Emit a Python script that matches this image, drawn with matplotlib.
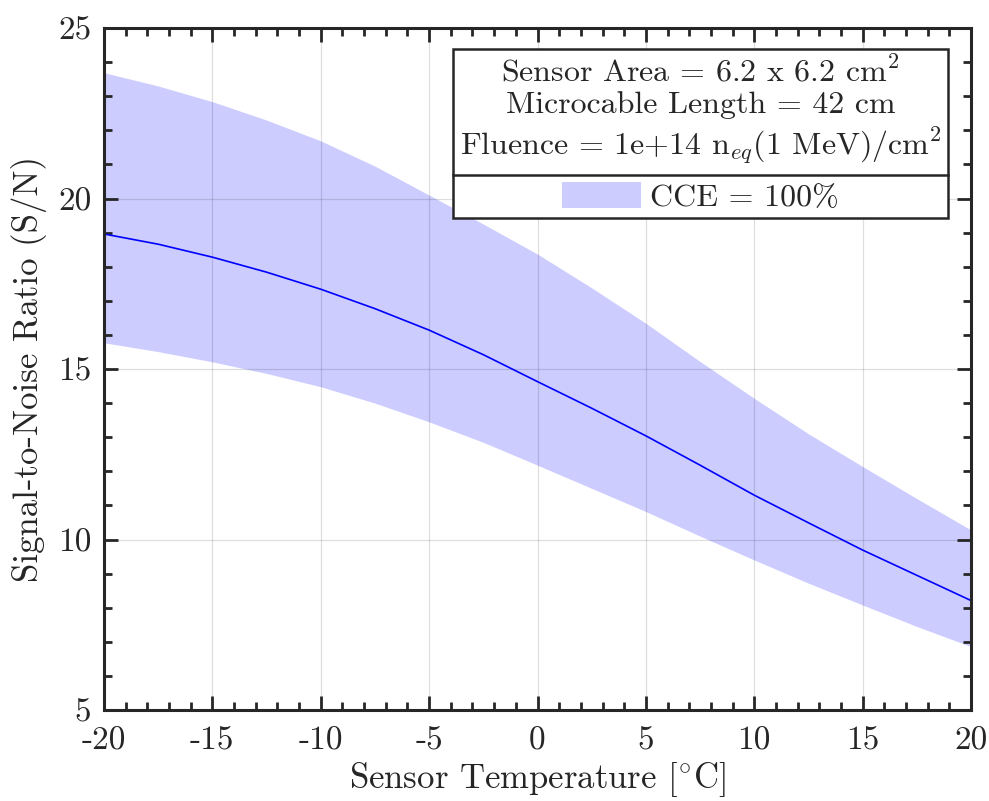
import numpy as np
import matplotlib as mpl
mpl.use('Agg')
import matplotlib.pyplot as plt
from matplotlib.lines import Line2D

mpl.rcParams.update({
    'font.family': 'serif',
    'font.serif': ['cmr10', 'DejaVu Serif'],
    'mathtext.fontset': 'cm',
    'axes.unicode_minus': False,
    'axes.formatter.use_mathtext': True,
})

# sensor temperature [C]
temp = [-20, -17.5, -15, -12.5, -10, -7.5, -5, -2.5, 0, 2.5, 5, 7.5, 10, 12.5, 15, 17.5, 20]
# signal-to-noise, nominal and band
snr_mid = [18.96, 18.66, 18.28, 17.84, 17.34, 16.77, 16.14, 15.42, 14.63, 13.85, 13.04, 12.18, 11.30, 10.49, 9.69, 8.95, 8.21]
snr_hi = [23.69, 23.30, 22.84, 22.30, 21.69, 20.95, 20.10, 19.25, 18.37, 17.38, 16.34, 15.22, 14.14, 13.10, 12.14, 11.20, 10.28]
snr_lo = [15.77, 15.51, 15.21, 14.87, 14.48, 14.00, 13.45, 12.85, 12.18, 11.50, 10.82, 10.10, 9.40, 8.72, 8.08, 7.45, 6.86]

xticks = [-20, -15, -10, -5, 0, 5, 10, 15, 20]
yticks = [5, 10, 15, 20, 25]

dark = '#262626'
fig = plt.figure(figsize=(9.89, 8.01), dpi=100)
ax = fig.add_axes([104/989, 91/801, 867/989, 682/801])

band = ax.fill_between(temp, snr_lo, snr_hi, color='#ccccff', lw=0, label='CCE = 100%', zorder=1)
ax.plot(temp, snr_mid, color='#0000ff', lw=1.2, zorder=3)

ax.set_xlim(-20, 20)
ax.set_ylim(5, 25)
ax.set_xticks(xticks)
ax.set_xticklabels([str(t) for t in xticks])
ax.set_yticks(yticks)
ax.set_yticklabels([str(t) for t in yticks])
ax.set_xticks(np.arange(-20, 21, 1), minor=True)
ax.set_yticks(np.arange(5, 26, 1), minor=True)
ax.tick_params(which='both', direction='in', top=True, right=True, color=dark,
               labelsize=24, labelcolor=dark, width=2.0)
ax.tick_params(which='major', length=10)
ax.tick_params(which='minor', length=5.5)
ax.tick_params(axis='x', which='major', pad=12)
ax.tick_params(axis='y', which='major', pad=9)
for s in ax.spines.values():
    s.set_linewidth(2.2)
    s.set_color(dark)
    s.set_zorder(5)

ax.set_axisbelow(False)
ax.grid(True, which='major', color='k', alpha=0.13, lw=0.9, zorder=2)

ax.set_xlabel(r'Sensor Temperature [$^{\circ}$C]', fontsize=25, color=dark, labelpad=3)
ax.set_ylabel('Signal-to-Noise Ratio (S/N)', fontsize=25, color=dark, labelpad=8)

title = ('Sensor Area = 6.2 x 6.2 cm$^2$\n'
         'Microcable Length = 42 cm\n'
         'Fluence = 1e+14 n$_{eq}$(1 MeV)/cm$^2$')
leg = ax.legend(handles=[band], loc='upper right', bbox_to_anchor=(0.9735, 0.9692),
                borderaxespad=0, fontsize=23, title=title, title_fontsize=23,
                fancybox=False, framealpha=1, edgecolor=dark, handlelength=2.45,
                handleheight=0.9, handletextpad=0.3, borderpad=0.2)
leg.get_frame().set_linewidth(1.8)
leg.get_title().set_multialignment('center')
leg.get_title().set_linespacing(1.2)
leg.get_title().set_color(dark)
for t in leg.get_texts():
    t.set_color(dark)

# separator between the title block and the entry
fig.canvas.draw()
r = fig.canvas.get_renderer()
lb = leg.get_window_extent(r)
tb = leg.get_title().get_window_extent(r)
hb = leg.get_texts()[0].get_window_extent(r)
ysep = (tb.y0 + hb.y1) / 2
inv = fig.transFigure.inverted()
(x0, ys), (x1, _) = inv.transform([(lb.x0, ysep), (lb.x1, ysep)])
fig.add_artist(Line2D([x0, x1], [ys, ys], color=dark, lw=1.8, zorder=10))

fig.savefig('out.png', dpi=100)
